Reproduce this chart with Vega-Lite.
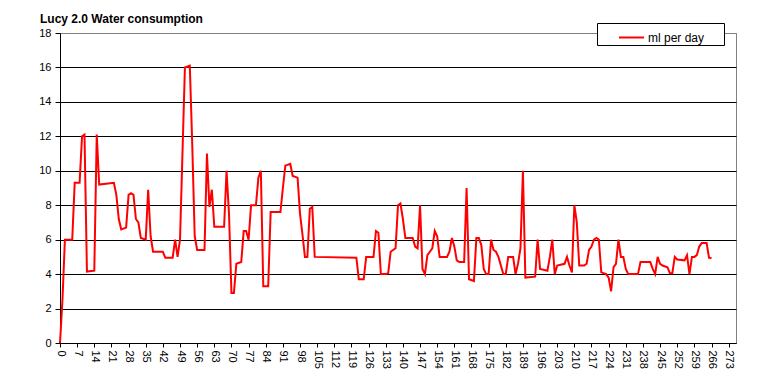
{
  "$schema": "https://vega.github.io/schema/vega-lite/v6.json",
  "width": 676,
  "height": 310,
  "autosize": {"type": "none"},
  "padding": {"left": 60, "top": 33, "right": 30, "bottom": 48},
  "background": "white",
  "title": {"text": "Lucy 2.0 Water consumption", "anchor": "start", "frame": "group", "dx": -20, "offset": -3, "font": "Liberation Sans", "fontSize": 12, "fontWeight": "bold", "color": "black"},
  "config": {"view": {"stroke": "#808080", "strokeWidth": 1}, "font": "Liberation Sans"},
  "data": {"values": [
    {"day":0,"ml":0},{"day":1,"ml":2.5},{"day":2,"ml":6.0},{"day":5,"ml":6.0},{"day":6,"ml":9.3},{"day":8,"ml":9.3},{"day":9,"ml":12.0},{"day":10,"ml":12.1},{"day":11,"ml":4.15},{"day":14,"ml":4.2},{"day":15,"ml":12.1},{"day":16,"ml":9.2},{"day":22,"ml":9.3},{"day":23,"ml":8.6},{"day":24,"ml":7.2},{"day":25,"ml":6.6},{"day":27,"ml":6.7},{"day":28,"ml":8.6},{"day":29,"ml":8.7},{"day":30,"ml":8.6},{"day":31,"ml":7.2},{"day":32,"ml":7.0},{"day":33,"ml":6.1},{"day":35,"ml":6.0},{"day":36,"ml":8.9},{"day":37,"ml":6.2},{"day":38,"ml":5.3},{"day":42,"ml":5.3},{"day":43,"ml":4.95},{"day":46,"ml":4.95},{"day":47,"ml":6.0},{"day":48,"ml":5.0},{"day":49,"ml":6.0},{"day":50,"ml":11.0},{"day":51,"ml":16.0},{"day":53,"ml":16.1},{"day":54,"ml":11.5},{"day":55,"ml":6.2},{"day":56,"ml":5.4},{"day":59,"ml":5.4},{"day":60,"ml":11.0},{"day":61,"ml":7.9},{"day":62,"ml":8.9},{"day":63,"ml":6.75},{"day":67,"ml":6.75},{"day":68,"ml":10.0},{"day":69,"ml":7.5},{"day":70,"ml":2.9},{"day":71,"ml":2.9},{"day":72,"ml":4.6},{"day":74,"ml":4.7},{"day":75,"ml":6.5},{"day":76,"ml":6.5},{"day":77,"ml":6.0},{"day":78,"ml":8.0},{"day":80,"ml":8.0},{"day":81,"ml":9.6},{"day":82,"ml":10.0},{"day":83,"ml":3.3},{"day":85,"ml":3.3},{"day":86,"ml":7.6},{"day":90,"ml":7.6},{"day":91,"ml":9.0},{"day":92,"ml":10.3},{"day":94,"ml":10.4},{"day":95,"ml":9.7},{"day":97,"ml":9.6},{"day":98,"ml":7.5},{"day":99,"ml":6.3},{"day":100,"ml":5.0},{"day":101,"ml":5.0},{"day":102,"ml":7.8},{"day":103,"ml":7.9},{"day":104,"ml":5.0},{"day":121,"ml":4.95},{"day":122,"ml":3.7},{"day":124,"ml":3.7},{"day":125,"ml":5.0},{"day":128,"ml":5.0},{"day":129,"ml":6.5},{"day":130,"ml":6.4},{"day":131,"ml":4.0},{"day":133,"ml":4.0},{"day":134,"ml":4.05},{"day":135,"ml":5.3},{"day":136,"ml":5.4},{"day":137,"ml":5.5},{"day":138,"ml":8.0},{"day":139,"ml":8.1},{"day":140,"ml":7.2},{"day":141,"ml":6.1},{"day":144,"ml":6.1},{"day":145,"ml":5.6},{"day":146,"ml":5.5},{"day":147,"ml":8.0},{"day":148,"ml":4.3},{"day":149,"ml":4.0},{"day":150,"ml":5.1},{"day":151,"ml":5.3},{"day":152,"ml":5.5},{"day":153,"ml":6.5},{"day":154,"ml":6.2},{"day":155,"ml":5.0},{"day":158,"ml":5.0},{"day":159,"ml":5.3},{"day":160,"ml":6.1},{"day":161,"ml":5.6},{"day":162,"ml":4.8},{"day":163,"ml":4.7},{"day":165,"ml":4.7},{"day":166,"ml":9.0},{"day":167,"ml":3.7},{"day":169,"ml":3.6},{"day":170,"ml":6.1},{"day":171,"ml":6.1},{"day":172,"ml":5.7},{"day":173,"ml":4.3},{"day":174,"ml":4.0},{"day":175,"ml":4.0},{"day":176,"ml":6.0},{"day":177,"ml":5.4},{"day":178,"ml":5.3},{"day":179,"ml":5.0},{"day":180,"ml":4.5},{"day":181,"ml":4.0},{"day":182,"ml":4.0},{"day":183,"ml":5.0},{"day":185,"ml":5.0},{"day":186,"ml":4.0},{"day":187,"ml":4.6},{"day":188,"ml":5.5},{"day":189,"ml":10.0},{"day":190,"ml":3.8},{"day":194,"ml":3.85},{"day":195,"ml":6.0},{"day":196,"ml":4.3},{"day":199,"ml":4.2},{"day":200,"ml":5.0},{"day":201,"ml":6.0},{"day":202,"ml":4.0},{"day":203,"ml":4.5},{"day":206,"ml":4.6},{"day":207,"ml":5.0},{"day":208,"ml":4.5},{"day":209,"ml":4.1},{"day":210,"ml":8.0},{"day":211,"ml":7.0},{"day":212,"ml":4.5},{"day":214,"ml":4.5},{"day":215,"ml":4.6},{"day":216,"ml":5.4},{"day":217,"ml":5.6},{"day":218,"ml":6.0},{"day":219,"ml":6.1},{"day":220,"ml":6.0},{"day":221,"ml":4.1},{"day":223,"ml":4.0},{"day":224,"ml":3.8},{"day":225,"ml":3.0},{"day":226,"ml":4.4},{"day":227,"ml":4.6},{"day":228,"ml":6.0},{"day":229,"ml":5.0},{"day":230,"ml":5.0},{"day":231,"ml":4.3},{"day":232,"ml":4.0},{"day":236,"ml":4.0},{"day":237,"ml":4.7},{"day":241,"ml":4.7},{"day":242,"ml":4.3},{"day":243,"ml":4.0},{"day":244,"ml":5.0},{"day":245,"ml":4.6},{"day":246,"ml":4.5},{"day":248,"ml":4.4},{"day":249,"ml":4.05},{"day":250,"ml":4.05},{"day":251,"ml":5.0},{"day":252,"ml":4.85},{"day":255,"ml":4.8},{"day":256,"ml":5.1},{"day":257,"ml":4.0},{"day":258,"ml":5.0},{"day":259,"ml":5.0},{"day":260,"ml":5.1},{"day":261,"ml":5.6},{"day":262,"ml":5.8},{"day":264,"ml":5.8},{"day":265,"ml":4.95},{"day":266,"ml":4.93}
  ]},
  "mark": {"type": "line", "strokeWidth": 2, "interpolate": "linear"},
  "encoding": {
    "x": {"field": "day", "type": "quantitative", "scale": {"domain": [0, 276], "nice": false, "zero": false},
      "axis": {"values": [0,7,14,21,28,35,42,49,56,63,70,77,84,91,98,105,112,119,126,133,140,147,154,161,168,175,182,189,196,203,210,217,224,231,238,245,252,259,266,273],
        "title": null, "grid": false, "labelAngle": 90, "labelFontSize": 11, "labelColor": "black", "domainColor": "black", "tickColor": "black", "tickSize": 4, "labelPadding": 3, "labelOverlap": false, "labelFlush": false}},
    "y": {"field": "ml", "type": "quantitative", "scale": {"domain": [0, 18], "nice": false},
      "axis": {"values": [0,2,4,6,8,10,12,14,16,18], "title": null, "grid": true,
        "gridColor": {"condition": {"test": "datum.value == 18", "value": "#808080"}, "value": "black"},
        "gridOpacity": 1, "domainColor": "black", "tickColor": "black", "tickSize": 5, "labelPadding": 4, "labelFontSize": 11, "labelColor": "black"}},
    "color": {"datum": "ml per day", "scale": {"range": ["#ff0000"]},
      "legend": {"orient": "none", "legendX": 537, "legendY": -10, "title": null, "strokeColor": "black", "fillColor": "white", "padding": 1, "symbolType": "stroke", "symbolSize": 625, "symbolStrokeWidth": 2, "symbolOffset": 20, "labelFontSize": 12, "labelColor": "black", "labelOffset": 3, "labelExpr": "datum.label + '\u2800\u2800'"}}
  }
}
